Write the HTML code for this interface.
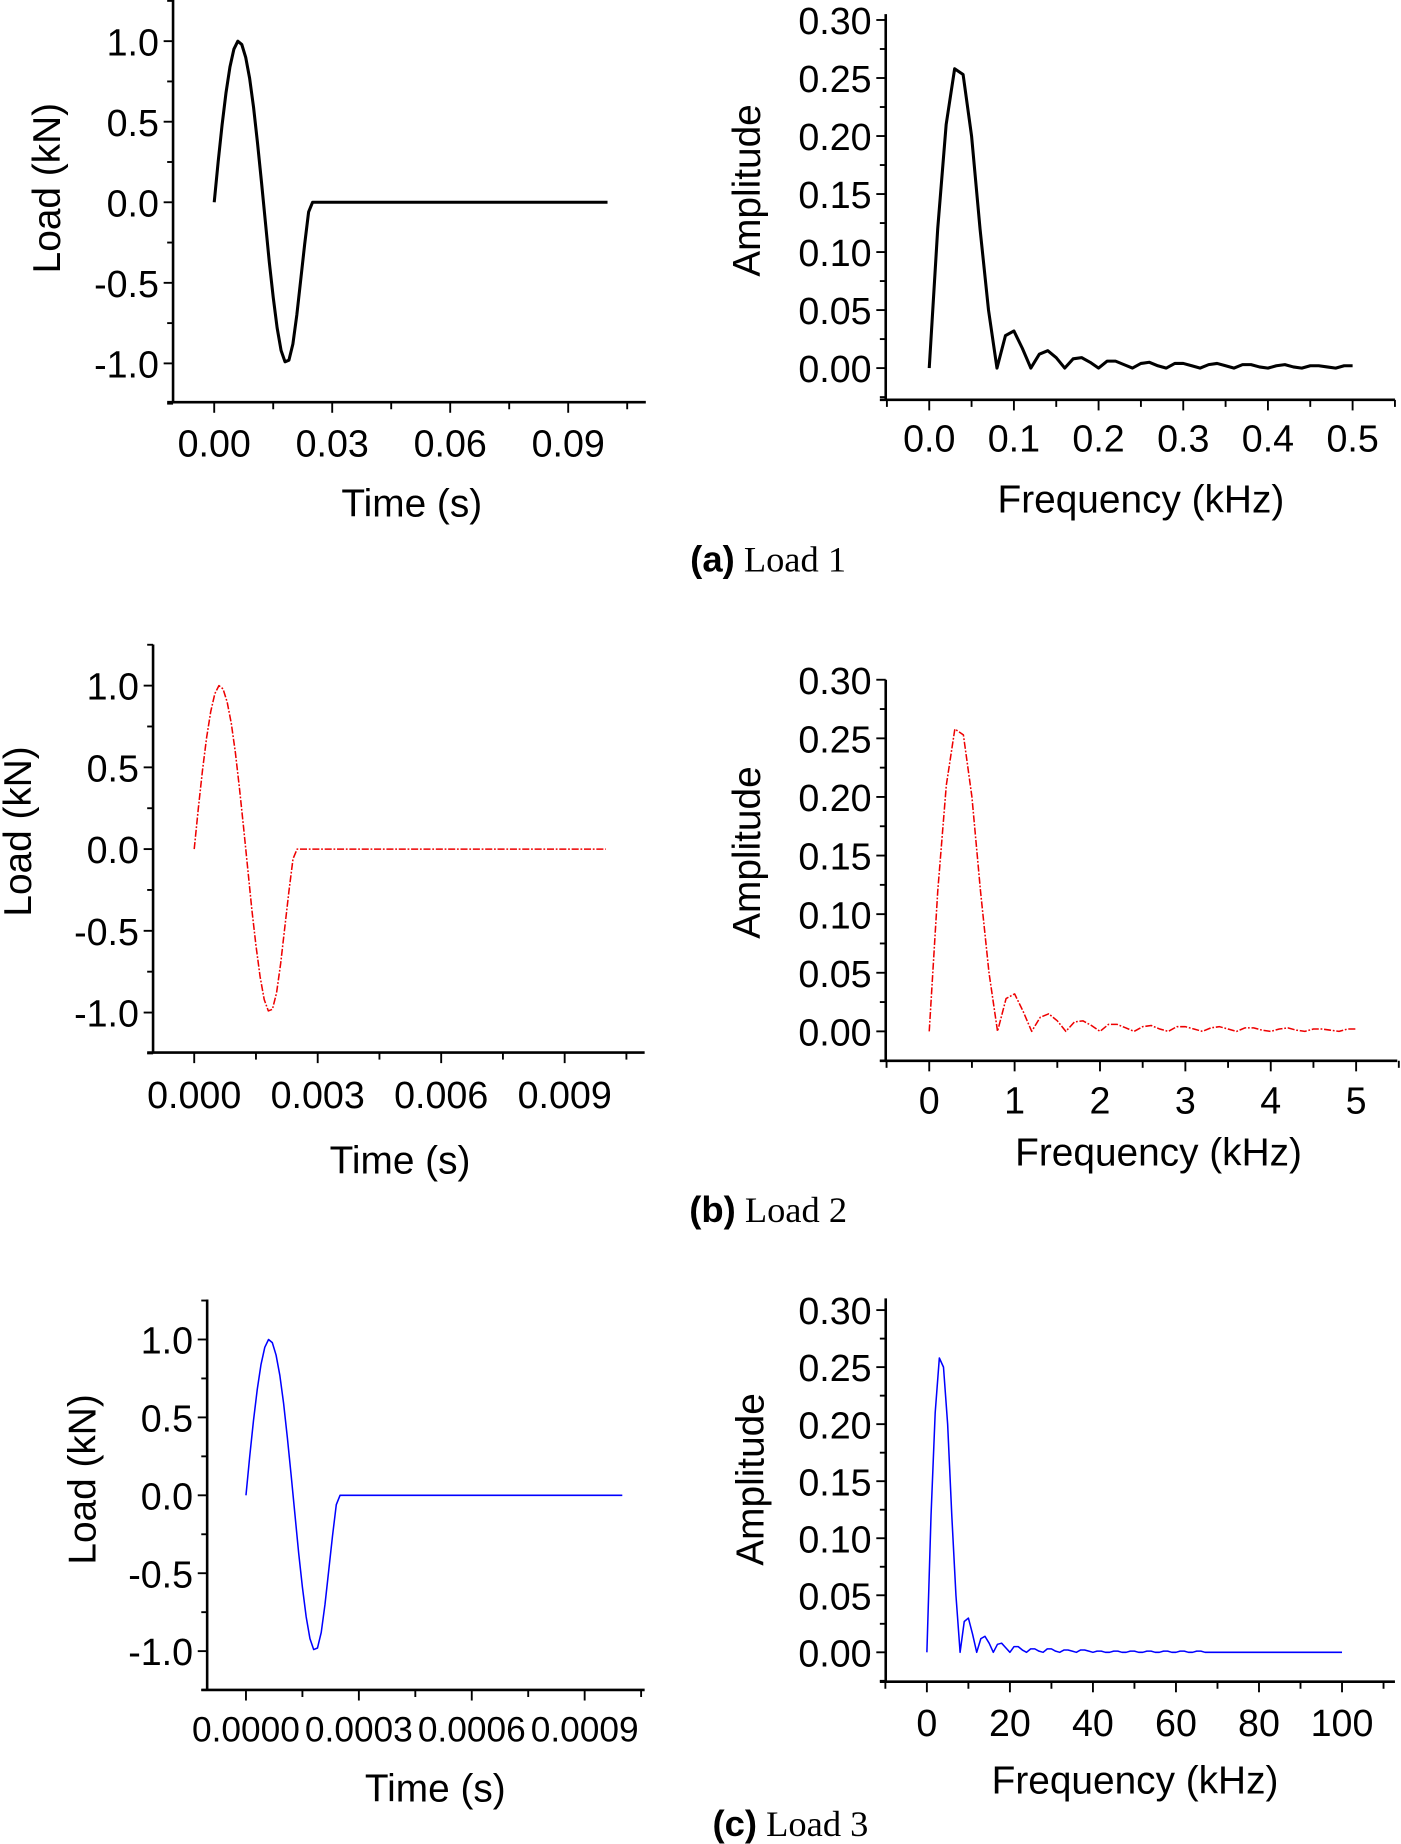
<!DOCTYPE html>
<html><head><meta charset="utf-8">
<style>
html,body{margin:0;padding:0;background:#fff;}
svg{display:block;}
text{font-family:"Liberation Sans",Arial,sans-serif;fill:#000;}
</style></head>
<body>
<svg id="fig" width="1401" height="1844" viewBox="0 0 1191 1568" xmlns="http://www.w3.org/2000/svg"></svg>
<script>
// Load pulse (shape)
const loadValues = [0,0.25,0.48,0.68,0.84,0.95,1.0,0.98,0.90,0.77,0.59,0.37,0.13,-0.12,-0.37,-0.59,-0.78,-0.92,-0.99,-0.98,-0.88,-0.70,-0.48,-0.26,-0.06,0,0];
const timeA = [0,0.001,0.002,0.003,0.004,0.005,0.006,0.007,0.008,0.009,0.010,0.011,0.012,0.013,0.014,0.015,0.016,0.017,0.018,0.019,0.020,0.021,0.022,0.023,0.024,0.025,0.1];
const timeB = [0,0.0001,0.0002,0.0003,0.0004,0.0005,0.0006,0.0007,0.0008,0.0009,0.0010,0.0011,0.0012,0.0013,0.0014,0.0015,0.0016,0.0017,0.0018,0.0019,0.0020,0.0021,0.0022,0.0023,0.0024,0.0025,0.01];
const timeC = [0,0.00001,0.00002,0.00003,0.00004,0.00005,0.00006,0.00007,0.00008,0.00009,0.00010,0.00011,0.00012,0.00013,0.00014,0.00015,0.00016,0.00017,0.00018,0.00019,0.00020,0.00021,0.00022,0.00023,0.00024,0.00025,0.001];
// Spectrum amplitudes
const ampValues = [0,0.12,0.21,0.258,0.253,0.20,0.12,0.05,0,0.028,0.032,0.017,0,0.012,0.015,0.009,0,0.008,0.009,0.005,0,0.006,0.006,0.003,0,0.004,0.005,0.002,0,0.004,0.004,0.002,0,0.003,0.004,0.002,0,0.003,0.003,0.001,0,0.002,0.003,0.001,0,0.002,0.002,0.001,0,0.002,0.002];
const ampValuesC = [0,0.12,0.21,0.258,0.25,0.20,0.12,0.05,0,0.027,0.03,0.016,0,0.012,0.014,0.008,0,0.007,0.008,0.004,0,0.005,0.005,0.002,0,0.003,0.003,0.001,0,0.003,0.003,0.001,0,0.002,0.002,0.001,0,0.002,0.002,0.001,0,0.001,0.001,0,0,0.001,0.001,0,0,0.001,0.001,0,0,0.001,0.001,0,0,0.001,0.001,0,0,0.001,0.001,0,0,0.001,0.001,0,0,0,0,0,0,0,0,0,0,0,0,0,0,0,0,0,0,0,0,0,0,0,0,0,0,0,0,0,0,0,0,0,0];
const freqStepA = 0.01, freqStepB = 0.1, freqStepC = 1;
const loadTicks = ["1.0","0.5","0.0","-0.5","-1.0"];
const ampTicks = ["0.30","0.25","0.20","0.15","0.10","0.05","0.00"];
const timeTicksA = ["0.00","0.03","0.06","0.09"];
const timeTicksB = ["0.000","0.003","0.006","0.009"];
const timeTicksC = ["0.0000","0.0003","0.0006","0.0009"];
const freqTicksA = ["0.0","0.1","0.2","0.3","0.4","0.5"];
const freqTicksB = ["0","1","2","3","4","5"];
const freqTicksC = ["0","20","40","60","80","100"];

const NS="http://www.w3.org/2000/svg";
const svg=document.getElementById('fig');
function el(tag,attrs,parent){const e=document.createElementNS(NS,tag);for(const k in attrs)e.setAttribute(k,attrs[k]);(parent||svg).appendChild(e);return e;}
function txt(s,attrs,parent){const e=el('text',attrs,parent);e.textContent=s;return e;}

function panel(c){
  const g=el('g',{});
  
  
  const sx=v=>c.x0+(v-c.xv0)*(c.x1-c.x0)/(c.xv1-c.xv0);
  const sy=v=>c.y0+(v-c.yv0)*(c.y1-c.y0)/(c.yv1-c.yv0);
  const ax=el('path',{d:`M${c.ax} ${c.top} V${c.bot} M${c.ax-5} ${c.bot} H${c.right}`,stroke:'#000','stroke-width':2.2,fill:'none'},g);
  
  
  for(let v=c.yMinorStart;v<=c.yMinorEnd+1e-9;v+=c.yMinor){
    const y=sy(v); const major=Math.abs(Math.round(v/c.yMajor)*c.yMajor-v)<1e-9;
    el('line',{x1:c.ax-(major?8:5),x2:c.ax,y1:y,y2:y,stroke:'#000','stroke-width':1.6},g);
  }
  c.yLabels.forEach((s)=>{const v=parseFloat(s);const t=txt(s,{x:c.ax-12,y:sy(v)+12,'font-size':c.fs,'text-anchor':'end'},g);
    });
  for(let v=c.xMinorStart;v<=c.xMinorEnd+1e-12;v+=c.xMinor){
    const x=sx(v); const major=Math.abs(Math.round(v/c.xMajor)*c.xMajor-v)<c.xMinor*1e-6;
    el('line',{x1:x,x2:x,y1:c.bot,y2:c.bot+(major?9:6),stroke:'#000','stroke-width':1.6},g);
  }
  c.xLabels.forEach((s)=>{const v=parseFloat(s);const t=txt(s,{x:sx(v),y:c.xlY,'font-size':c.xfs||c.fs,'text-anchor':'middle'},g);
    });
  const xt=txt(c.xTitle,{x:c.xtX,y:c.xtY,'font-size':33,'text-anchor':'middle'},g);
  
  const yt=txt(c.yTitle,{x:0,y:0,'font-size':33,'text-anchor':'middle',transform:`translate(${c.ytX},${c.ytY}) rotate(-90)`},g);
  
  const pts=c.xs.map((x,i)=>sx(x).toFixed(2)+','+sy(c.ys[i]).toFixed(2)).join(' ');
  const ln=el('polyline',{points:pts,fill:'none',stroke:c.color,'stroke-width':c.sw,'stroke-linejoin':'round'},g);
  if(c.dash) ln.setAttribute('stroke-dasharray',c.dash);
  
  
}
function caption(letter,rest,cx,y,name){
  const t=el('text',{x:cx,y:y,'text-anchor':'middle','font-size':31});
  
  
  const a=el('tspan',{'font-weight':'bold','font-family':'Liberation Sans, sans-serif'},t);a.textContent='('+letter+')';
  const b=el('tspan',{'font-family':'Liberation Serif, serif'},t);b.textContent=' '+rest;
}
const freqA=ampValues.map((_,i)=>i*freqStepA), freqB=ampValues.map((_,i)=>i*freqStepB), freqC=ampValuesC.map((_,i)=>i*freqStepC);
const loadCommon={yv0:1,yv1:-1,yMinor:0.25,yMajor:0.5,yMinorStart:-1.25,yMinorEnd:1.25,yLabels:loadTicks,yTitle:'Load (kN)',xTitle:'Time (s)'};
const ampCommon={yv0:0.30,yv1:0,yMinor:0.025,yMajor:0.05,yMinorStart:-0.025,yMinorEnd:0.30,yLabels:ampTicks,yTitle:'Amplitude',xTitle:'Frequency (kHz)'};

panel(Object.assign({},loadCommon,{name:'load1-time-chart',ax:147,top:0,bot:342,right:549,x0:182,x1:483,xv0:0,xv1:0.09,y0:35,y1:309,
  xMinor:0.015,xMajor:0.03,xMinorStart:0,xMinorEnd:0.105,xLabels:timeTicksA,xlY:388,fs:32,xtX:350,xtY:439,ytX:51,ytY:160,
  xs:timeA,ys:loadValues,color:'#000',sw:2.6}));
panel(Object.assign({},ampCommon,{name:'load1-spectrum-chart',ax:753,top:12,bot:340,right:1186,x0:790,x1:1150,xv0:0,xv1:0.5,y0:17,y1:313,
  xMinor:0.05,xMajor:0.1,xMinorStart:-0.05,xMinorEnd:0.55,xLabels:freqTicksA,xlY:384,fs:32,xtX:970,xtY:436,ytX:646,ytY:162,
  xs:freqA,ys:ampValues,color:'#000',sw:2.6}));
caption('a','Load 1',653,486,'caption-a');

panel(Object.assign({},loadCommon,{name:'load2-time-chart',ax:130,top:548,bot:895,right:548,x0:165,x1:480,xv0:0,xv1:0.009,y0:583,y1:861,
  xMinor:0.0015,xMajor:0.003,xMinorStart:0,xMinorEnd:0.0105,xLabels:timeTicksB,xlY:942,fs:32,xtX:340,xtY:998,ytX:26,ytY:707,
  xs:timeB,ys:loadValues,color:'#e00',sw:1.3,dash:'6 1.5 1.5 1.5'}));
panel(Object.assign({},ampCommon,{name:'load2-spectrum-chart',ax:753,top:578,bot:902,right:1188,x0:790,x1:1153,xv0:0,xv1:5,y0:578,y1:877,
  xMinor:0.5,xMajor:1,xMinorStart:-0.5,xMinorEnd:5.5,xLabels:freqTicksB,xlY:947,fs:32,xtX:985,xtY:991,ytX:646,ytY:725,
  xs:freqB,ys:ampValues,color:'#e00',sw:1.3,dash:'6 1.5 1.5 1.5'}));
caption('b','Load 2',653,1039,'caption-b');

panel(Object.assign({},loadCommon,{name:'load3-time-chart',ax:176,top:1105,bot:1437,right:548,x0:209,x1:497,xv0:0,xv1:0.0009,y0:1139,y1:1404,
  xMinor:0.00015,xMajor:0.0003,xMinorStart:0,xMinorEnd:0.00106,xLabels:timeTicksC,xlY:1481,fs:32,xfs:30,xtX:370,xtY:1532,ytX:81,ytY:1258,
  xs:timeC,ys:loadValues,color:'#00f',sw:1.3}));
panel(Object.assign({},ampCommon,{name:'load3-spectrum-chart',ax:753,top:1104,bot:1430,right:1186,x0:788,x1:1141,xv0:0,xv1:100,y0:1114,y1:1405,
  xMinor:10,xMajor:20,xMinorStart:-10,xMinorEnd:110,xLabels:freqTicksC,xlY:1476,fs:32,xtX:965,xtY:1525,ytX:649,ytY:1258,
  xs:freqC,ys:ampValuesC,color:'#00f',sw:1.3}));
caption('c','Load 3',672,1561,'caption-c');
</script>
</body></html>
